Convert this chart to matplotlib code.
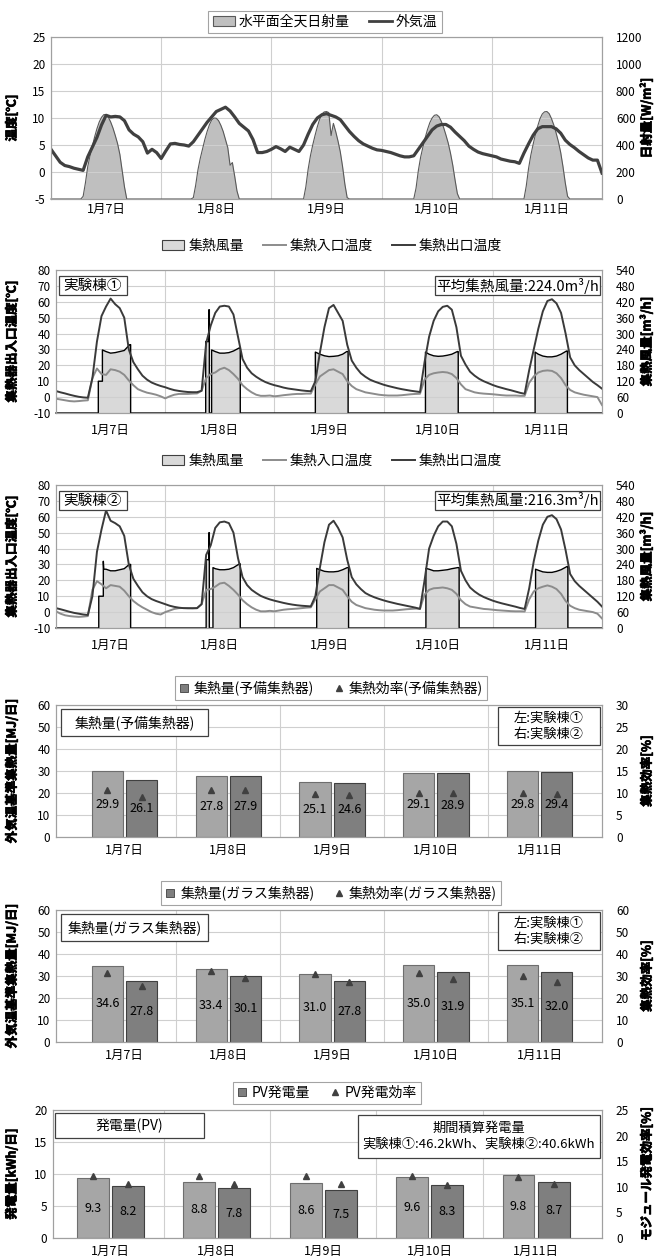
import numpy as np
import matplotlib.pyplot as plt
import matplotlib.patheffects as pe
from matplotlib.patches import Patch, Rectangle
from matplotlib.lines import Line2D

plt.rcParams['font.family'] = ['Noto Sans CJK JP', 'DejaVu Sans']
plt.rcParams['axes.unicode_minus'] = False

# ---------------- data ----------------
days = ["1月7日", "1月8日", "1月9日", "1月10日", "1月11日"]
hours = np.arange(121)          # 1/7 0:00 .. 1/12 0:00, hourly
day_noon = [12, 36, 60, 84, 108]

outdoor_temp = [
    4.2, 3.0, 1.8, 1.2, 1.0, 0.7, 0.5, 0.3, 2.8, 4.6, 6.4, 8.7, 10.5, 10.2, 10.3, 10.2, 9.5, 7.8, 7.0, 6.5, 5.6, 3.5, 4.2, 3.6, 2.5,
    3.9, 5.2, 5.3, 5.1, 5.0, 4.8, 5.6, 6.8, 8.0, 9.2, 10.2, 11.2, 11.6, 12.0, 11.3, 10.2, 9.0, 8.3, 7.6, 6.0, 3.6, 3.6, 3.8,
    4.2, 4.7, 4.3, 3.8, 4.6, 4.2, 3.8, 5.0, 7.0, 8.8, 10.0, 10.6, 10.8, 10.5, 10.2, 9.7, 8.6, 7.5, 6.6, 5.8, 5.2, 4.8, 4.4, 4.1,
    4.0, 3.8, 3.6, 3.3, 3.0, 2.8, 2.8, 3.0, 4.2, 5.4, 6.6, 7.8, 8.5, 8.8, 8.8, 8.3, 7.4, 6.6, 5.8, 4.8, 4.2, 3.7, 3.4, 3.2, 3.0,
    2.8, 2.4, 2.2, 2.0, 1.9, 1.6, 3.5, 5.2, 6.8, 8.0, 8.4, 8.4, 8.4, 8.0, 7.2, 5.9, 5.1, 4.5, 3.8, 3.2, 2.6, 2.2, 2.2, -0.2]

# horizontal global irradiance [W/m2], half-hourly 6:30-17:00 of each day (0 at night)
rad_clock = np.arange(6.5, 17.25, 0.5)
rad_days = [
    [0, 20, 120, 240, 320, 390, 460, 520, 570, 605, 625, 625, 605, 570, 525, 470, 410, 330, 210, 90, 0, 0],
    [0, 10, 100, 215, 300, 370, 440, 500, 550, 585, 600, 598, 580, 545, 500, 440, 380, 250, 270, 170, 60, 0],
    [0, 0, 90, 220, 320, 400, 470, 535, 590, 630, 645, 648, 640, 470, 560, 500, 430, 350, 240, 110, 10, 0],
    [0, 0, 80, 210, 310, 385, 455, 515, 565, 600, 620, 624, 610, 575, 530, 475, 415, 340, 250, 140, 40, 0],
    [0, 0, 95, 225, 325, 405, 478, 540, 595, 630, 646, 648, 632, 595, 548, 490, 425, 345, 240, 120, 20, 0],
]

# building 1
out_temp_1 = [
    3.8, 3.0, 2.3, 1.5, 0.8, 0.2, -0.2, -0.4, 12, 35, 51, 57, 62, 58.5, 56, 50, 30, 22, 17.5, 13.5, 11, 9.2, 8, 7, 6.2,
    5.2, 4.4, 3.9, 3.5, 3.2, 3.1, 3.1, 4.0, 34, 45, 53, 57, 57.5, 57, 52, 38, 24, 18.5, 15, 12.8, 11, 9.5, 8.4,
    7.5, 6.8, 6.0, 5.4, 5.0, 4.6, 4.2, 3.9, 3.7, 10, 28, 44, 56, 58, 53, 48, 33, 23, 18.5, 15, 12.8, 11, 9.8, 8.8,
    7.8, 7.0, 6.3, 5.6, 5.0, 4.5, 4.0, 3.6, 3.2, 22, 38, 48, 54, 56.8, 57.5, 55, 44, 26, 20.5, 16, 13.5, 11.5, 10, 8.8, 7.6,
    6.6, 5.8, 5.0, 4.3, 3.5, 2.7, 2.1, 17, 30, 43, 54, 60.5, 61.6, 59, 53, 40, 25, 20, 17, 14.5, 12, 9.5, 7.5, 5.3]
in_temp_1 = [
    -1, -1.5, -2, -2.5, -2.7, -2.5, -2.2, -2, 12, 18, 14.5, 14, 17.5, 17, 16, 14, 10.5, 7.5, 5, 3.8, 2.8, 2.2, 1.5, 0.5, -0.8,
    0.5, 1.5, 2, 2, 2, 2.2, 2.3, 4, 12, 14.5, 15.5, 17.5, 18.5, 17, 14.5, 11.5, 7.5, 5, 3, 1.5, 0.8, 0.8, 1.0,
    0.5, 0.8, 1.2, 1.5, 1.8, 2, 2, 2.2, 2.2, 8, 13, 15, 17, 17.5, 16, 14.5, 10, 7, 5, 4, 3, 2.5, 2, 1.5,
    1.2, 1, 1, 1, 1.2, 1.5, 1.8, 2, 2.1, 11, 14, 15, 15.5, 15.8, 15.5, 14.5, 12, 8, 5, 4, 3, 2.5, 2.2, 2, 1.8,
    1.5, 1.2, 1, 1, 1, 0.8, 0.8, 9, 13, 15.5, 16.5, 16.8, 16.5, 15, 12, 7.5, 4.5, 3, 2.2, 1.5, 1, 0.5, 0, -5]
flow_1 = [
    (0, 0), (9.3, 0), (9.3, 120), (10.2, 120), (10.2, 238), (11, 232), (12, 226), (13, 228), (14, 232), (15, 236),
    (16.2, 258), (16.4, 258), (16.4, 0),
    (32.9, 0), (32.9, 270), (33.6, 270), (33.6, 390), (33.7, 390), (33.7, 0), (34.2, 0), (34.2, 238), (35, 232),
    (36, 226), (37, 226), (38, 228), (39, 234), (40.3, 246), (40.5, 246), (40.5, 0),
    (57.0, 0), (57.0, 230), (58, 222), (59, 216), (60, 213), (61, 214), (62, 216), (63, 222), (63.9, 232), (64.2, 232), (64.2, 0),
    (81.2, 0), (81.2, 230), (82, 222), (83, 216), (84, 214), (85, 215), (86, 218), (87, 222), (88.2, 232), (88.4, 232), (88.4, 0),
    (105.3, 0), (105.3, 230), (106, 222), (107, 215), (108, 212), (109, 212), (110, 215), (111, 222), (112.2, 234),
    (112.4, 234), (112.4, 0), (120, 0)]

# building 2
out_temp_2 = [
    2.5, 1.8, 1.0, 0.2, -0.5, -1.0, -1.5, -1.8, 10, 38, 52, 64, 57.5, 56, 54, 48, 30, 21, 16.5, 12.5, 10, 8.2, 7, 6, 5,
    4.0, 3.3, 2.8, 2.5, 2.4, 2.4, 2.5, 5.0, 36, 42, 53, 56.5, 57, 56, 50, 34, 22, 17, 14, 12, 10.2, 9, 8,
    7.2, 6.5, 5.8, 5.2, 4.7, 4.3, 4.0, 3.8, 3.6, 10, 28, 44, 55, 57.5, 53, 47, 33, 22, 17.5, 14.5, 12, 10.5, 9.3, 8.3,
    7.4, 6.6, 5.9, 5.2, 4.6, 4.0, 3.4, 2.8, 2.0, 20, 40, 48, 54, 57, 57, 54, 43, 26, 20, 15.5, 13, 11, 9.5, 8.3, 7.2,
    6.3, 5.5, 4.8, 4.1, 3.4, 2.6, 2.0, 15, 32, 45, 55, 60, 61, 58.5, 52, 39, 24, 19.5, 16.5, 14, 11.5, 9, 6.5, 3.5]
in_temp_2 = [
    0.5, -1, -2, -2.5, -2.8, -3, -2.8, -2.5, 14, 19.5, 17.5, 15, 17, 16.5, 16, 13.5, 10, 7, 4.8, 3, 1.5, 0, -1, -1.5, 0,
    1, 2, 2.5, 2.6, 2.6, 2.5, 2.5, 5, 14, 14.5, 16, 18, 18.5, 16.5, 14, 11, 7.5, 5, 3, 1.5, 0.5, 0.5, 0.8,
    0.5, 1, 1.5, 1.8, 2, 2.2, 2.5, 2.8, 3, 8, 13, 15, 17, 17, 15.5, 14, 10, 6.5, 4.5, 3.5, 2.5, 2, 1.5, 1.2,
    1, 1, 1, 1.2, 1.5, 1.8, 2, 2.2, 2.2, 11, 14, 15, 15.2, 15.5, 15, 14, 11.5, 7.5, 5, 3.5, 3, 2.5, 2, 1.8, 1.5,
    1.2, 1, 0.8, 0.6, 0.5, 0.5, 0.4, 8, 13, 15, 16, 16.8, 16, 14.5, 11.5, 7, 4, 2.5, 1.5, 1, 0.5, 0, -1, -4]
flow_2 = [
    (0, 0), (9.4, 0), (9.4, 120), (10.4, 120), (10.4, 252), (10.5, 222), (11, 222), (12, 216), (13, 216), (14, 220),
    (15, 224), (16.1, 240), (16.4, 240), (16.4, 0),
    (33.0, 0), (33.0, 258), (33.6, 258), (33.6, 360), (33.7, 360), (33.7, 0), (34.5, 0), (34.5, 228), (35, 224),
    (36, 220), (37, 220), (38, 222), (39, 228), (40.3, 242), (40.5, 242), (40.5, 0),
    (57.3, 0), (57.3, 225), (58, 220), (59, 214), (60, 212), (61, 212), (62, 214), (63, 220), (64.0, 228), (64.3, 228), (64.3, 0),
    (81.3, 0), (81.3, 225), (82, 222), (83, 216), (84, 216), (85, 218), (86, 220), (87, 224), (88.3, 228), (88.6, 228), (88.6, 0),
    (105.4, 0), (105.4, 222), (106, 218), (107, 212), (108, 210), (109, 210), (110, 214), (111, 220), (112.3, 232),
    (112.5, 232), (112.5, 0), (120, 0)]

# daily collected heat [MJ/day] and efficiency [%]
spare_heat_1 = [29.9, 27.8, 25.1, 29.1, 29.8]
spare_heat_2 = [26.1, 27.9, 24.6, 28.9, 29.4]
spare_eff_1 = [10.6, 10.6, 9.8, 10.1, 9.9]
spare_eff_2 = [9.2, 10.6, 9.6, 10.1, 9.8]

glass_heat_1 = [34.6, 33.4, 31.0, 35.0, 35.1]
glass_heat_2 = [27.8, 30.1, 27.8, 31.9, 32.0]
glass_eff_1 = [31.5, 32.5, 31.0, 31.5, 30.0]
glass_eff_2 = [25.5, 29.0, 27.5, 28.5, 27.5]

pv_kwh_1 = [9.3, 8.8, 8.6, 9.6, 9.8]
pv_kwh_2 = [8.2, 7.8, 7.5, 8.3, 8.7]
pv_eff_1 = [12.2, 12.2, 12.2, 12.2, 12.0]
pv_eff_2 = [10.6, 10.6, 10.6, 10.4, 10.6]

# ---------------- figure ----------------
W, H = 656, 1260
fig = plt.figure(figsize=(W / 100, H / 100), dpi=100)

GRID = '#cfcfcf'
SPINE = '#a0a0a0'
BOLD = [pe.withStroke(linewidth=0.5, foreground='black')]


def fx(x):
    return x / W


def fy(y):
    return 1 - y / H


def px_axes(l, t, r, b):
    return fig.add_axes([l / W, 1 - b / H, (r - l) / W, (b - t) / H])


def style(ax, xpad):
    for s in ax.spines.values():
        s.set_color(SPINE)
        s.set_linewidth(0.8)
    ax.tick_params(which='both', length=0, labelsize=8.5)
    ax.tick_params(axis='x', pad=xpad, labelsize=9)


def right_left(host, twin):
    host.yaxis.tick_right()
    twin.yaxis.tick_left()
    host.tick_params(axis='y', pad=10)
    twin.tick_params(axis='y', pad=4)


def text_box(l, t, r, b, s, size=10):
    fig.add_artist(Rectangle((fx(l), fy(b)), (r - l) / W, (b - t) / H, transform=fig.transFigure,
                             fc='white', ec='#404040', lw=0.9))
    fig.text(fx((l + r) / 2), fy((t + b) / 2), s, ha='center', va='center', fontsize=size, linespacing=1.3)


def ylab(x, t, b, s):
    fig.text(fx(x), fy((t + b) / 2), s, rotation=90, ha='center', va='center',
             fontsize=9, fontweight='bold', path_effects=BOLD)


def legend(handles, labels, cx, cy, frame=True, hl=1.6):
    leg = fig.legend(handles, labels, loc='center', bbox_to_anchor=(fx(cx), fy(cy)), ncol=len(labels),
                     frameon=frame, fancybox=False, edgecolor='#8c8c8c', fontsize=10,
                     handlelength=hl, handletextpad=0.3, columnspacing=1.4, borderpad=0.3)
    leg.get_frame().set_linewidth(0.8)


# ---- chart 1: irradiance and outdoor temperature ----
ax = px_axes(51, 37, 602, 199)
ax.set_xlim(0, 120)
ax.set_ylim(0, 1200)
ax.set_yticks(range(0, 1201, 200))
ax.set_xticks(day_noon)
ax.set_xticklabels(days)
ax.set_xticks(np.arange(0, 121, 12), minor=True)
ax.grid(which='minor', axis='x', color=GRID, lw=0.8)
ax.grid(which='major', axis='y', color=GRID, lw=0.8)
rt = np.concatenate([[0]] + [24 * d + rad_clock for d in range(5)] + [[120]])
rv = np.concatenate([[0]] + rad_days + [[0]])
ax.fill_between(rt, rv, color='#bfbfbf', lw=0)
ax.plot(rt, rv, color='#595959', lw=0.8, clip_on=False)
tw = ax.twinx()
tw.set_ylim(-5, 25)
tw.set_yticks(range(-5, 26, 5))
tw.plot(hours, outdoor_temp, color='#404040', lw=2.3)
style(ax, 3)
style(tw, 3)
right_left(ax, tw)
legend([Patch(fc='#bfbfbf', ec='#595959', lw=0.8), Line2D([], [], color='#404040', lw=2)],
       ['水平面全天日射量', '外気温'], 325, 22)
ylab(12, 37, 199, '温度[℃]')
ylab(647, 37, 199, '日射量[W/m²]')


# ---- charts 2, 3: collector temperatures and air flow ----
def collector_chart(top, bottom, out_t, in_t, flow, tag, avg):
    ax = px_axes(56, top, 602, bottom)
    ax.set_xlim(0, 120)
    ax.set_ylim(0, 540)
    ax.set_yticks(range(0, 541, 60))
    ax.set_xticks(day_noon)
    ax.set_xticklabels(days)
    ax.set_xticks([24, 48, 72, 96], minor=True)
    ax.grid(which='minor', axis='x', color=GRID, lw=0.8)
    ax.grid(which='major', axis='y', color=GRID, lw=0.8)
    ft = [p[0] for p in flow]
    fv = [p[1] for p in flow]
    ax.fill_between(ft, fv, color='#d9d9d9', lw=0)
    ax.plot(ft, fv, color='black', lw=1.0, clip_on=False)
    tw = ax.twinx()
    tw.set_ylim(-10, 80)
    tw.set_yticks(range(-10, 81, 10))
    tw.plot(hours, in_t, color='#8c8c8c', lw=1.4)
    tw.plot(hours, out_t, color='#3a3a3a', lw=1.4)
    style(ax, 8)
    style(tw, 8)
    right_left(ax, tw)
    legend([Patch(fc='#d9d9d9', ec='#404040', lw=0.8), Line2D([], [], color='#8c8c8c', lw=1.4),
            Line2D([], [], color='#3a3a3a', lw=1.4)],
           ['集熱風量', '集熱入口温度', '集熱出口温度'], 332, top - 24, frame=False)
    text_box(59, top + 6, 127, top + 25, tag, 10.5)
    text_box(435, top + 6, 600, top + 25, avg, 10.5)
    ylab(12, top, bottom, '集熱器出入口温度[℃]')
    ylab(647, top, bottom, '集熱風量[m³/h]')


collector_chart(270, 413, out_temp_1, in_temp_1, flow_1, '実験棟①', '平均集熱風量:224.0m³/h')
collector_chart(485, 628, out_temp_2, in_temp_2, flow_2, '実験棟②', '平均集熱風量:216.3m³/h')


# ---- charts 4-6: daily bars ----
def bar_chart(top, bottom, left, xlim, vals_1, vals_2, eff_1, eff_2, ymax, ystep, rmax, rstep,
              leg_labels, leg_cx, lylab, rylab):
    x = np.arange(5)
    ax = px_axes(left, top, 602, bottom)
    ax.set_xlim(*xlim)
    ax.set_ylim(0, ymax)
    ax.set_yticks(np.arange(0, ymax + 0.1, ystep))
    ax.set_xticks(x)
    ax.set_xticklabels(days)
    ax.set_xticks(x[:-1] + 0.5, minor=True)
    ax.grid(which='minor', axis='x', color=GRID, lw=0.8)
    ax.grid(which='major', axis='y', color=GRID, lw=0.8)
    ax.set_axisbelow(True)
    ax.bar(x - 0.165, vals_1, width=0.30, color='#a6a6a6', edgecolor='#6e6e6e', lw=0.8)
    ax.bar(x + 0.165, vals_2, width=0.30, color='#7f7f7f', edgecolor='#404040', lw=0.8)
    for i in range(5):
        ax.text(x[i] - 0.165, vals_1[i] / 2, f'{vals_1[i]:.1f}', ha='center', va='center', fontsize=9)
        ax.text(x[i] + 0.165, vals_2[i] / 2, f'{vals_2[i]:.1f}', ha='center', va='center', fontsize=9)
    tw = ax.twinx()
    tw.set_ylim(0, rmax)
    tw.set_yticks(np.arange(0, rmax + 0.1, rstep))
    tw.plot(x - 0.165, eff_1, ls='none', marker='^', ms=5, color='#404040')
    tw.plot(x + 0.165, eff_2, ls='none', marker='^', ms=5, color='#404040')
    style(ax, 5)
    style(tw, 5)
    ax.tick_params(axis='y', pad=4)
    tw.tick_params(axis='y', pad=10)
    legend([Line2D([], [], ls='none', marker='s', ms=6, mfc='#7f7f7f', mec='#404040', mew=0.6),
            Line2D([], [], ls='none', marker='^', ms=4, color='#404040')],
           leg_labels, leg_cx, top - 17, hl=0.8)
    ylab(12, top, bottom, lylab)
    ylab(647, top, bottom, rylab)


bar_chart(705, 837, 56, (-0.66, 4.6), spare_heat_1, spare_heat_2, spare_eff_1, spare_eff_2, 60, 10, 30, 5,
          ['集熱量(予備集熱器)', '集熱効率(予備集熱器)'], 331, '外気温基準集熱量[MJ/日]', '集熱効率[%]')
text_box(61, 709, 208, 736, '集熱量(予備集熱器)', 10)
text_box(498, 707, 600, 745, '左:実験棟①\n右:実験棟②', 9.5)

bar_chart(910, 1042, 56, (-0.66, 4.6), glass_heat_1, glass_heat_2, glass_eff_1, glass_eff_2, 60, 10, 60, 10,
          ['集熱量(ガラス集熱器)', '集熱効率(ガラス集熱器)'], 331, '外気温基準集熱量[MJ/日]', '集熱効率[%]')
text_box(61, 914, 208, 941, '集熱量(ガラス集熱器)', 10)
text_box(498, 912, 600, 950, '左:実験棟①\n右:実験棟②', 9.5)

bar_chart(1110, 1238, 53, (-0.54, 4.62), pv_kwh_1, pv_kwh_2, pv_eff_1, pv_eff_2, 20, 5, 25, 5,
          ['PV発電量', 'PV発電効率'], 327, '発電量[kWh/日]', 'モジュール発電効率[%]')
text_box(55, 1113, 204, 1138, '発電量(PV)', 10)
text_box(358, 1115, 600, 1158, '期間積算発電量\n実験棟①:46.2kWh、実験棟②:40.6kWh', 9.5)

fig.savefig('out.png', dpi=100)
